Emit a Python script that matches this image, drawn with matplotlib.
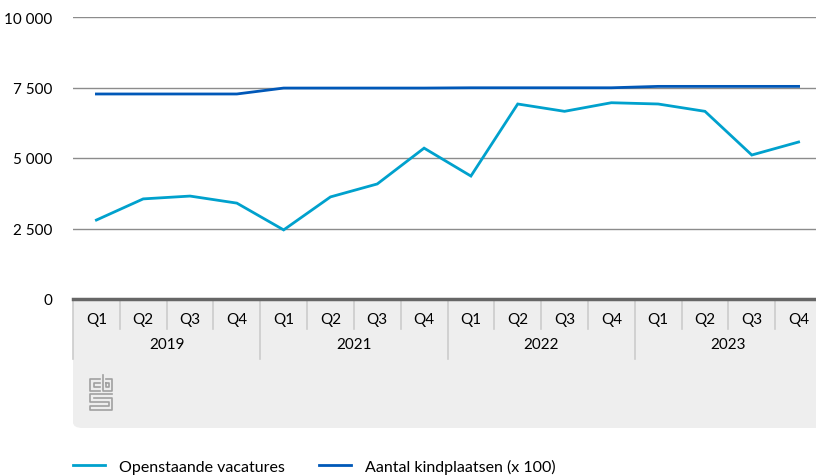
import matplotlib.pyplot as plt
import matplotlib.patches as mpatches
from matplotlib.lines import Line2D
import numpy as np

plt.rcParams['font.family'] = ['Lato', 'DejaVu Sans']

# Data
years = ["2019", "2021", "2022", "2023"]
quarters = ["Q1", "Q2", "Q3", "Q4"]
vacatures = [2800, 3550, 3650, 3400,
             2450, 3620, 4080, 5350,
             4360, 6915, 6655, 6960,
             6915, 6655, 5106, 5567]
kindplaatsen = [7270, 7270, 7270, 7270,
                7480, 7480, 7480, 7480,
                7490, 7490, 7490, 7490,
                7540, 7540, 7540, 7540]

light_blue = "#00a1cd"
dark_blue = "#0058b8"
W, H = 816, 477

fig = plt.figure(figsize=(W / 100, H / 100), dpi=100)
ax = fig.add_axes([73 / W, 1 - 300 / H, 749 / W, 282 / H])
ax.set_zorder(2)
ax.patch.set_alpha(0)

x = np.arange(len(vacatures))
ax.plot(x, vacatures, color=light_blue, lw=2, solid_joinstyle="miter", zorder=3)
ax.plot(x, kindplaatsen, color=dark_blue, lw=2, solid_joinstyle="miter", zorder=3)

ax.set_xlim(-0.5, len(x) - 0.5)
ax.set_ylim(0, 10000)
ax.set_yticks([0, 2500, 5000, 7500, 10000])
ax.set_yticklabels(["0", "2 500", "5 000", "7 500", "10 000"], fontsize=11)
ax.tick_params(axis="y", length=0, pad=15)
ax.set_xticks([])
for s in ax.spines.values():
    s.set_visible(False)
for v in [2500, 5000, 7500, 10000]:
    ax.axhline(v, color="#8c8c8c", lw=1, zorder=1)
ax.axhline(0, color="#666666", lw=2.5, zorder=4, clip_on=False)

# Category box below the axis
def fx(px):
    return px / W

def fy(py):
    return 1 - py / H

box_r = fx(830)
fig.patches.append(mpatches.FancyBboxPatch(
    (fx(73), fy(429)), box_r - fx(73), fy(305) - fy(429),
    boxstyle="round,pad=0,rounding_size=0.012", transform=fig.transFigure,
    facecolor="#eeeeee", edgecolor="none", zorder=-2))
fig.patches.append(mpatches.Rectangle(
    (fx(73), fy(330)), box_r - fx(73), fy(300) - fy(330),
    transform=fig.transFigure, facecolor="#eeeeee", edgecolor="none", zorder=-2))

trans = ax.get_xaxis_transform()
y_q = -(330 - 300) / 282
y_y = -(360 - 300) / 282
for i in range(len(x) + 1):
    bottom = y_y if i % 4 == 0 else y_q
    ax.plot([i - 0.5, i - 0.5], [0, bottom], transform=trans, color="#cccccc",
            lw=1.2, clip_on=False, zorder=2)
for i in range(len(x)):
    ax.text(i, -(320 - 300) / 282, quarters[i % 4], transform=trans,
            ha="center", va="center", fontsize=11)
for j, yr in enumerate(years):
    ax.text(j * 4 + 1.5, -(345 - 300) / 282, yr, transform=trans,
            ha="center", va="center", fontsize=11)

# CBS logo (simplified)
logo = [
    [(100, 380), (90, 380), (90, 392), (100, 392)],
    [(100, 384), (94, 384), (94, 388), (100, 388)],
    [(103, 376), (103, 392), (112, 392), (112, 380), (106, 380)],
    [(106, 384), (109, 384), (109, 388), (106, 388), (106, 384)],
    [(112, 395), (90, 395), (90, 403), (109, 403), (109, 407), (90, 407),
     (90, 411), (112, 411), (112, 399), (94, 399)],
]
for seg in logo:
    xs = [fx(p[0]) for p in seg]
    ys = [fy(p[1]) for p in seg]
    fig.lines.append(Line2D(xs, ys, transform=fig.transFigure,
                            color="#a0a0a0", lw=1.2))

# Legend
handles = [Line2D([], [], color=light_blue, lw=2),
           Line2D([], [], color=dark_blue, lw=2)]
fig.legend(handles, ["Openstaande vacatures", "Aantal kindplaatsen (x 100)"],
           loc="center left", bbox_to_anchor=(fx(73), fy(467)), ncol=2,
           frameon=False, fontsize=11.5, handlelength=2.0, handletextpad=0.9,
           columnspacing=2.1, borderpad=0, borderaxespad=0)

fig.savefig("out.png", dpi=100)
